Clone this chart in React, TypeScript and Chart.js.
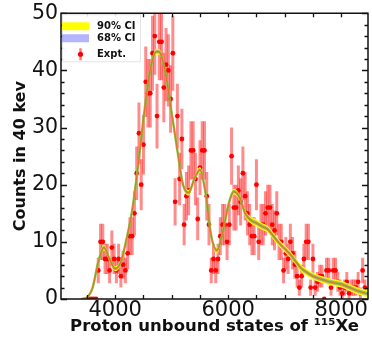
import React, { useEffect, useRef } from "react";
import { Chart, registerables } from "chart.js";

Chart.register(...registerables);

// Experimental histogram (40 keV bins)
const binStart = 3540;
const binWidth = 40;
const counts = [
  0, 0, 0, 0, 5, 10, 10, 7, 7, 5,
  9, 7, 5, 7, 4, 6, 5, 8, 11, 11,
  15, 22, 29, 20, 27, 38, 36, 36, 43, 46,
  32, 45, 45, 37, 41, 40, 35, 43, 17, 32,
  21, 28, 13, 18, 19, 26, 26, 21, 14, 23,
  26, 26, 18, 13, 5, 7, 5, 7, 11, 13,
  13, 10, 13, 25, 16, 16, 19, 17, 22, 18,
  15, 13, 11, 11, 20, 10, 13, 13, 15, 16,
  16, 13, 12, 15, 10, 10, 5, 8, 7, 10,
  8, 6, 4, 2, 4, 7, 10, 10, 2, 7,
  2, 3, 4, 4, 0, 5, 5, 2, 5, 5,
  3, 2, 1, 2, 3, 1, 2, 2, 2, 3,
  1, 5, 2,
];
const energies = counts.map((_, i) => binStart + i * binWidth);

// Fitted curve with credible intervals
const fitEnergy = [3400, 3500, 3600, 3700, 3800, 3900, 4000, 4100, 4200, 4300, 4400, 4500, 4600, 4700, 4750, 4800, 4900, 5000, 5100, 5200, 5300, 5400, 5500, 5600, 5700, 5800, 5900, 6000, 6100, 6200, 6300, 6400, 6500, 6600, 6700, 6800, 6900, 7000, 7100, 7200, 7300, 7400, 7500, 7600, 7700, 7800, 7900, 8000, 8100, 8200, 8300, 8400, 8470];
const fitMedian = [0, 0.3, 2, 6.5, 9, 7, 5.3, 6.5, 10.5, 15.5, 23, 31.5, 39, 43, 43.3, 43, 39, 32.5, 26, 20, 18.6, 21, 22.6, 18.5, 11, 8.5, 11.5, 16.3, 18.8, 17.8, 15, 13.8, 13.3, 12.7, 12.2, 11, 9.8, 8.8, 7.8, 6.5, 5.3, 4.6, 4.0, 3.6, 3.3, 3.0, 2.8, 2.6, 2.2, 1.8, 1.4, 1.1, 0.9];
const ci90Half = [0.1, 0.2, 0.35, 0.5, 0.5, 0.45, 0.45, 0.45, 0.5, 0.5, 0.5, 0.5, 0.5, 0.5, 0.5, 0.5, 0.5, 0.5, 0.5, 0.5, 0.5, 0.5, 0.5, 0.5, 0.5, 0.5, 0.5, 0.5, 0.5, 0.5, 0.55, 0.6, 0.6, 0.6, 0.6, 0.6, 0.6, 0.6, 0.6, 0.6, 0.6, 0.6, 0.6, 0.6, 0.6, 0.6, 0.6, 0.6, 0.6, 0.6, 0.6, 0.6, 0.6];
const ci68Half = [0.06, 0.12, 0.2, 0.3, 0.3, 0.27, 0.27, 0.27, 0.3, 0.3, 0.3, 0.3, 0.3, 0.3, 0.3, 0.3, 0.3, 0.3, 0.3, 0.3, 0.3, 0.3, 0.3, 0.3, 0.3, 0.3, 0.3, 0.3, 0.3, 0.3, 0.33, 0.36, 0.36, 0.36, 0.36, 0.36, 0.36, 0.36, 0.36, 0.36, 0.36, 0.36, 0.36, 0.36, 0.36, 0.36, 0.36, 0.36, 0.36, 0.36, 0.36, 0.36, 0.36];

const xTickLabels = [4000, 6000, 8000];
const xTickMarks = [3500, 4000, 4500, 5000, 5500, 6000, 6500, 7000, 7500, 8000];
const yTickMarks = [0, 2, 4, 6, 8, 10, 12, 14, 16, 18, 20, 22, 24, 26, 28, 30, 32, 34, 36, 38, 40, 42, 44, 46, 48, 50];

const legendLabels = ["90% CI", "68% CI", "Expt."];

const POINTS_INDEX = 6;

const errorBarPlugin = {
  id: "errbars",
  beforeDatasetDraw(chart: any, args: any) {
    if (args.index !== POINTS_INDEX) return;
    const { ctx, chartArea, scales } = chart;
    const x = scales.x, y = scales.y;
    ctx.save();
    ctx.beginPath();
    ctx.rect(chartArea.left, chartArea.top, chartArea.right - chartArea.left, chartArea.bottom - chartArea.top);
    ctx.clip();
    ctx.strokeStyle = "rgba(255,0,0,0.45)";
    ctx.lineWidth = 3;
    counts.forEach((c, i) => {
      if (c <= 0) return;
      const e = Math.sqrt(c);
      const px = x.getPixelForValue(energies[i]);
      ctx.beginPath();
      ctx.moveTo(px, y.getPixelForValue(c - e));
      ctx.lineTo(px, y.getPixelForValue(c + e));
      ctx.stroke();
    });
    ctx.restore();
  },
};

const frameTicksPlugin = {
  id: "frameTicks",
  afterDatasetsDraw(chart: any) {
    const { ctx, chartArea, scales } = chart;
    const { left, right, top, bottom } = chartArea;
    const x = scales.x, y = scales.y;
    ctx.save();
    ctx.strokeStyle = "#111";
    ctx.lineWidth = 1.3;
    ctx.beginPath();
    xTickMarks.forEach((v) => {
      const px = Math.round(x.getPixelForValue(v)) + 0.5;
      ctx.moveTo(px, bottom);
      ctx.lineTo(px, bottom - 4);
      ctx.moveTo(px, top);
      ctx.lineTo(px, top + 4);
    });
    yTickMarks.forEach((v) => {
      const py = Math.round(y.getPixelForValue(v)) + 0.5;
      const len = v % 10 === 0 ? 6 : 3.5;
      ctx.moveTo(left, py);
      ctx.lineTo(left + len, py);
      ctx.moveTo(right, py);
      ctx.lineTo(right - len, py);
    });
    ctx.stroke();
    ctx.lineWidth = 1.5;
    ctx.strokeRect(left, top, right - left, bottom - top);
    ctx.restore();
  },
};

const legendPlugin = {
  id: "customLegend",
  afterDraw(chart: any) {
    const { ctx, chartArea } = chart;
    const { left, top } = chartArea;
    ctx.save();
    ctx.fillStyle = "rgba(255,255,255,0.92)";
    ctx.strokeStyle = "#e4e4e4";
    ctx.lineWidth = 1;
    ctx.beginPath();
    ctx.rect(left + 1.5, top + 1.5, 78, 47);
    ctx.fill();
    ctx.stroke();
    // 90% CI
    ctx.fillStyle = "#ffff00";
    ctx.fillRect(left + 1, top + 9, 27, 8);
    // 68% CI
    ctx.fillStyle = "rgba(120,120,255,0.55)";
    ctx.fillRect(left + 1, top + 21, 27, 8);
    // Expt.
    const ex = left + 19.5, ey = top + 41;
    ctx.strokeStyle = "rgba(255,0,0,0.55)";
    ctx.lineWidth = 2.4;
    ctx.beginPath();
    ctx.moveTo(ex, ey - 6);
    ctx.lineTo(ex, ey + 6);
    ctx.stroke();
    ctx.fillStyle = "#ff0000";
    ctx.beginPath();
    ctx.arc(ex, ey, 2.6, 0, Math.PI * 2);
    ctx.fill();
    ctx.fillStyle = "#111";
    ctx.font = "bold 10px 'DejaVu Sans'";
    ctx.textBaseline = "middle";
    ctx.textAlign = "left";
    ctx.fillText(legendLabels[0], left + 36, top + 13.5);
    ctx.fillText(legendLabels[1], left + 36, top + 25.5);
    ctx.fillText(legendLabels[2], left + 36, top + 41.5);
    ctx.restore();
  },
};

export default function App() {
  const ref = useRef<HTMLCanvasElement | null>(null);

  useEffect(() => {
    if (!ref.current) return;
    const fitPts = (arr: number[], sign: number, half?: number[]) =>
      fitEnergy.map((e, i) => ({ x: e, y: arr[i] + (half ? sign * half[i] : 0) }));

    const lineBase = {
      type: "line" as const,
      pointRadius: 0,
      cubicInterpolationMode: "monotone" as const,
    };

    const chart = new Chart(ref.current, {
      type: "scatter",
      data: {
        datasets: [
          { ...lineBase, label: "90u", data: fitPts(fitMedian, 1, ci90Half), borderWidth: 0, backgroundColor: "#ffff00", fill: "+1", order: 2 },
          { ...lineBase, label: "90l", data: fitPts(fitMedian, -1, ci90Half), borderWidth: 0, fill: false, order: 2 },
          { ...lineBase, label: "68u", data: fitPts(fitMedian, 1, ci68Half), borderWidth: 0, backgroundColor: "rgba(120,120,255,0.5)", fill: "+1", order: 1.5 },
          { ...lineBase, label: "68l", data: fitPts(fitMedian, -1, ci68Half), borderWidth: 0, fill: false, order: 1.5 },
          { ...lineBase, label: "fit", data: fitPts(fitMedian, 0), borderColor: "#8cc63f", borderWidth: 2.4, fill: false, order: 1 },
          { ...lineBase, label: "fit2", data: fitPts(fitMedian, 0), borderColor: "#d9772b", borderWidth: 1.2, fill: false, order: 0 },
          {
            type: "scatter" as const,
            label: "Expt.",
            data: energies.map((e, i) => ({ x: e, y: counts[i] })),
            backgroundColor: "#ff0000",
            borderColor: "#ff0000",
            pointRadius: 2.4,
            borderWidth: 0,
            order: 3,
          },
        ] as any,
      },
      options: {
        animation: false,
        responsive: false,
        maintainAspectRatio: false,
        layout: { padding: { top: 9, right: 2, left: 0, bottom: 0 } },
        plugins: { legend: { display: false }, tooltip: { enabled: false } },
        scales: {
          x: {
            type: "linear",
            min: 3040,
            max: 8475,
            grid: { display: false, drawTicks: false },
            border: { display: false },
            afterBuildTicks: (s: any) => {
              s.ticks = xTickLabels.map((v) => ({ value: v }));
            },
            afterFit: (s: any) => {
              s.height = 42;
            },
            ticks: {
              font: { family: "'DejaVu Sans'", size: 21, lineHeight: 1 },
              color: "#111",
              padding: 1,
              maxRotation: 0,
              autoSkip: false,
              callback: (v: any) => String(v),
            },
            title: {
              display: true,
              text: "Proton unbound states of ¹¹⁵Xe",
              font: { family: "'DejaVu Sans'", size: 16.5, weight: "bold", lineHeight: 1.2 },
              color: "#111",
              padding: { top: 0, bottom: 4 },
            },
          },
          y: {
            min: 0,
            max: 50,
            grid: { display: false, drawTicks: false },
            border: { display: false },
            afterFit: (s: any) => {
              s.width = 61;
            },
            ticks: {
              stepSize: 10,
              font: { family: "'DejaVu Sans'", size: 20.5, lineHeight: 1 },
              color: "#111",
              padding: 3,
            },
            title: {
              display: true,
              text: "Counts in 40 kev",
              font: { family: "'DejaVu Sans'", size: 16, weight: "bold", lineHeight: 1.2 },
              color: "#111",
              padding: { top: 11, bottom: 0 },
            },
          },
        },
      } as any,
      plugins: [errorBarPlugin, frameTicksPlugin, legendPlugin],
    });
    return () => chart.destroy();
  }, []);

  return (
    <div style={{ position: "absolute", left: 0, top: 0, width: 372, height: 341, background: "#fff" }}>
      <canvas ref={ref} width={372} height={341} style={{ display: "block" }} />
    </div>
  );
}
